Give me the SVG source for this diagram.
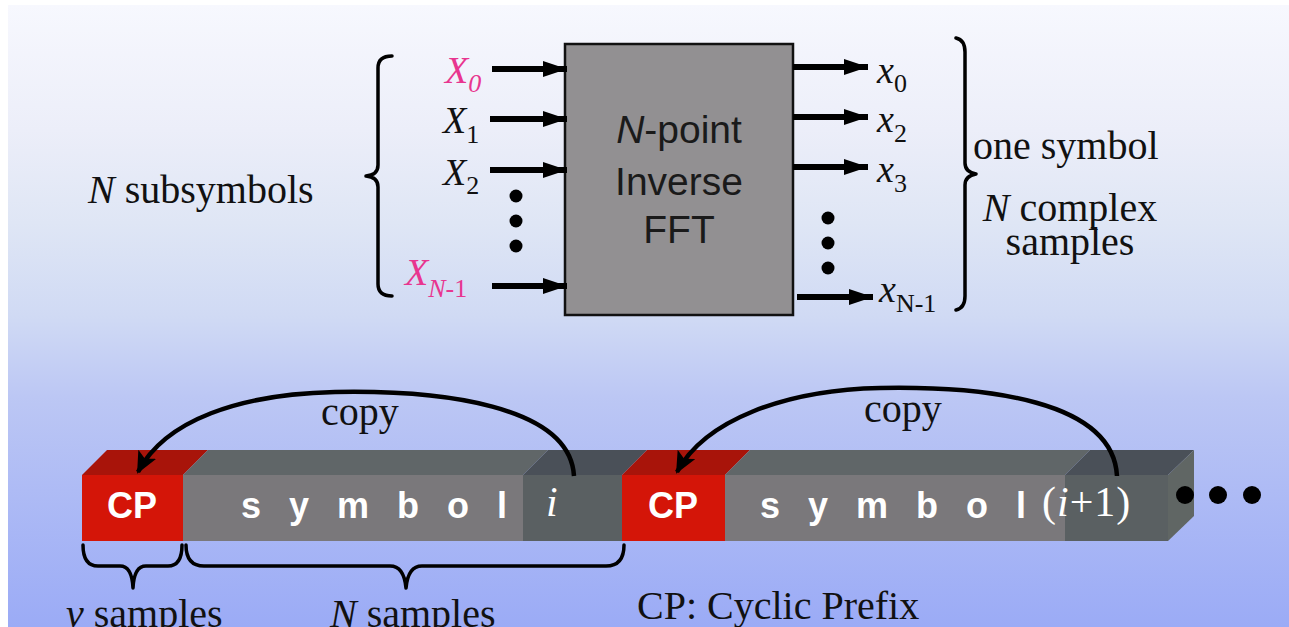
<svg xmlns="http://www.w3.org/2000/svg" width="1289" height="627" viewBox="0 0 1289 627">
<defs>
<linearGradient id="bg" x1="0" y1="0" x2="0" y2="1">
<stop offset="0" stop-color="#f7f8fe"/>
<stop offset="0.2" stop-color="#eceef9"/>
<stop offset="0.35" stop-color="#dfe6f5"/>
<stop offset="0.5" stop-color="#d0daf4"/>
<stop offset="0.63" stop-color="#bcc7f4"/>
<stop offset="0.78" stop-color="#aebbf5"/>
<stop offset="1" stop-color="#9babf6"/>
</linearGradient>
<marker id="ah" markerUnits="userSpaceOnUse" markerWidth="26" markerHeight="18" refX="24" refY="8" orient="auto">
<path d="M0,0 L24,8 L0,16 z" fill="#000"/>
</marker>
<marker id="ch" markerUnits="userSpaceOnUse" markerWidth="26" markerHeight="22" refX="20" refY="10" orient="auto">
<path d="M0,0 L22,10 L0,20 L5,10 z" fill="#000"/>
</marker>
</defs>
<style>
.ser{font-family:"Liberation Serif","Times New Roman",serif;font-size:40px;fill:#111}
.lab{font-family:"Liberation Serif","Times New Roman",serif;font-size:38px}
.sub{font-size:26px}
.it{font-style:italic}
.pink{fill:#e8358f}
.blk{fill:#111}
.box{font-family:"Liberation Sans",Arial,sans-serif;font-size:39px;fill:#1a1a1a;text-anchor:middle}
.wb{font-family:"Liberation Sans",Arial,sans-serif;font-size:36px;font-weight:bold;fill:#fff}
.wt{font-family:"Liberation Serif","Times New Roman",serif;font-size:42px;fill:#fff}
.arr{stroke:#000;stroke-width:6;fill:none;marker-end:url(#ah)}
.carr{stroke:#000;stroke-width:4.5;fill:none;marker-end:url(#ch)}
.brace{stroke:#000;stroke-width:3.5;fill:none;stroke-linejoin:round;stroke-linecap:round}
.cpf{fill:#d41508}.cpt{fill:#a8140a}
.syf{fill:#7a787b}.syt{fill:#606668}
.dkf{fill:#5a6062}.dkt{fill:#4a5058}
.sd{fill:#606664}
</style>
<rect x="0" y="0" width="1289" height="627" fill="#fff"/>
<rect x="8" y="5" width="1281" height="622" fill="url(#bg)"/>

<g id="ifft">
<rect x="565" y="44" width="228" height="271" fill="#929092" stroke="#111" stroke-width="2.5"/>
<text class="box" x="679" y="143"><tspan font-style="italic">N</tspan>-point</text>
<text class="box" x="679" y="195">Inverse</text>
<text class="box" x="679" y="243">FFT</text>
</g>

<g id="inputs">
<text class="lab it pink" x="445" y="83">X<tspan class="sub" dy="9">0</tspan></text>
<text class="lab blk" x="443" y="133"><tspan class="it">X</tspan><tspan class="sub" dy="10">1</tspan></text>
<text class="lab blk" x="443" y="185"><tspan class="it">X</tspan><tspan class="sub" dy="9">2</tspan></text>
<text class="lab pink" x="405" y="285"><tspan class="it">X</tspan><tspan class="sub" dy="12"><tspan class="it">N</tspan>-1</tspan></text>
<circle cx="516" cy="196" r="6.5"/>
<circle cx="516" cy="221" r="6.5"/>
<circle cx="516" cy="246" r="6.5"/>
<path class="brace" d="M392,56 Q378,56 378,68 L378,165 Q378,175 366,176 Q378,177 378,187 L378,284 Q378,296 392,296"/>
<text class="ser" x="88" y="203"><tspan class="it">N</tspan> subsymbols</text>
</g>

<g id="outputs">
<text class="lab blk" x="877" y="83"><tspan class="it">x</tspan><tspan class="sub" dy="9">0</tspan></text>
<text class="lab blk" x="877" y="132"><tspan class="it">x</tspan><tspan class="sub" dy="10">2</tspan></text>
<text class="lab blk" x="877" y="182"><tspan class="it">x</tspan><tspan class="sub" dy="10">3</tspan></text>
<text class="lab blk" x="879" y="302"><tspan class="it">x</tspan><tspan class="sub" dy="10">N-1</tspan></text>
<circle cx="828" cy="218" r="6.5"/>
<circle cx="828" cy="243" r="6.5"/>
<circle cx="828" cy="268" r="6.5"/>
<path class="brace" d="M956,38 Q965,40 965,52 L965,163 Q965,172 976,174 Q965,176 965,185 L965,296 Q965,308 956,310"/>
<text class="ser" x="973" y="159">one symbol</text>
<text class="ser" x="1070" y="221" text-anchor="middle"><tspan class="it">N</tspan> complex</text>
<text class="ser" x="1070" y="255" text-anchor="middle">samples</text>
</g>

<g id="connectors">
<line class="arr" x1="492" y1="69" x2="567" y2="69"/>
<line class="arr" x1="490" y1="119" x2="567" y2="119"/>
<line class="arr" x1="490" y1="170" x2="567" y2="170"/>
<line class="arr" x1="492" y1="286" x2="567" y2="286"/>
<line class="arr" x1="793" y1="67" x2="868" y2="67"/>
<line class="arr" x1="793" y1="117" x2="868" y2="117"/>
<line class="arr" x1="793" y1="167" x2="868" y2="167"/>
<line class="arr" x1="797" y1="297" x2="873" y2="297"/>
</g>

<g id="bar1">
<polygon class="cpt" points="82,475 107,450 208,450 183,475"/>
<rect class="cpf" x="82" y="475" width="101" height="66"/>
<polygon class="syt" points="183,475 208,450 548,450 523,475"/>
<rect class="syf" x="183" y="475" width="340" height="66"/>
<polygon class="dkt" points="523,475 548,450 647,450 622,475"/>
<rect class="dkf" x="523" y="475" width="99" height="66"/>
<text class="wb" x="132" y="518" text-anchor="middle">CP</text>
<text class="wb" x="241" y="518" letter-spacing="9">s y m b o l</text>
<text class="wt it" x="546" y="516">i</text>
</g>

<g id="bar2">
<polygon class="cpt" points="622,475 647,450 750,450 725,475"/>
<rect class="cpf" x="622" y="475" width="103" height="66"/>
<polygon class="syt" points="725,475 750,450 1090,450 1065,475"/>
<rect class="syf" x="725" y="475" width="340" height="66"/>
<polygon class="dkt" points="1065,475 1090,450 1194,450 1168,475"/>
<rect class="dkf" x="1065" y="475" width="103" height="66"/>
<polygon class="sd" points="1168,475 1194,450 1194,516 1168,541"/>
<text class="wb" x="673" y="518" text-anchor="middle">CP</text>
<text class="wb" x="760" y="518" letter-spacing="9">s y m b o l</text>
<text class="wt" x="1042" y="516" letter-spacing="1">(<tspan class="it">i</tspan>+1)</text>
<circle cx="1185" cy="495" r="9"/>
<circle cx="1218" cy="495" r="9"/>
<circle cx="1252" cy="495" r="9"/>
</g>

<g id="copy-arrows">
<path class="carr" d="M574,476 C570,405 440,390 335,392 C240,394 165,420 138,472"/>
<path class="carr" d="M1117,476 C1113,400 985,386 880,388 C785,390 705,420 677,472"/>
<text class="ser" x="360" y="425" text-anchor="middle">copy</text>
<text class="ser" x="903" y="422" text-anchor="middle">copy</text>
</g>

<g id="bottom-labels">
<path class="brace" d="M83,545 Q83,566 98,566 L120,566 Q132,566 133,588 Q134,566 146,566 L168,566 Q182,566 182,545"/>
<path class="brace" d="M186,545 Q186,566 204,566 L390,566 Q404,566 406,588 Q408,566 422,566 L606,566 Q624,566 624,545"/>
<text class="ser" x="66" y="627"><tspan class="it">ν</tspan> samples</text>
<text class="ser" x="330" y="627"><tspan class="it">N</tspan> samples</text>
<text class="ser" x="637" y="619">CP: Cyclic Prefix</text>
</g>
</svg>
